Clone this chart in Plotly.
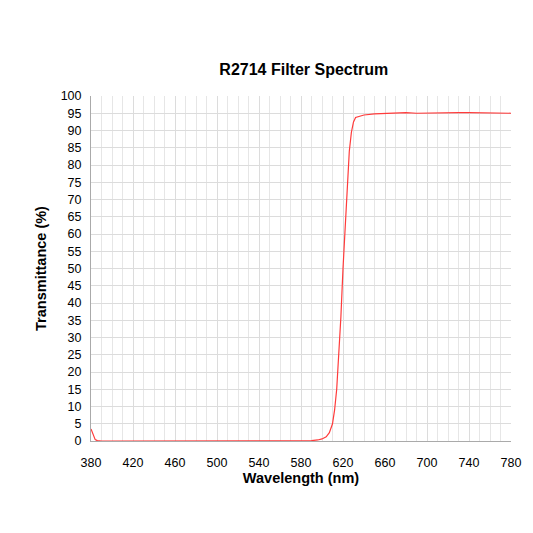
import plotly.graph_objects as go

# Wavelength (nm) and transmittance (%)
wavelength = [380, 382, 384, 386, 390, 400, 450, 500, 520, 530, 540, 580, 590, 596, 600, 604,
              607, 610, 612, 614, 616, 618, 620, 622, 624, 625, 626, 628, 630, 632, 636, 640,
              650, 660, 670, 680, 690, 700, 710, 720, 730, 740, 750, 760, 770, 780]
transmittance = [3.5, 1.8, 0.4, 0.1, 0.0, 0.0, 0.0, 0.0, 0.1, 0.2, 0.0, 0.0, 0.1, 0.3, 0.6, 1.2,
                 2.4, 5.0, 9.0, 15.0, 24.0, 36.0, 50.0, 62.0, 75.0, 80.0, 84.0, 89.5, 92.5, 93.8, 94.2, 94.5,
                 94.8, 95.0, 95.1, 95.2, 95.0, 95.1, 95.2, 95.3, 95.2, 95.2, 95.1, 95.2, 95.1, 95.0]

fig = go.Figure(go.Scatter(x=wavelength, y=transmittance, mode="lines",
                           line=dict(color="#ff3b3b", width=1.2)))

font = "Liberation Sans, Arial, sans-serif"
fig.update_layout(
    width=533, height=533,
    margin=dict(l=83, r=30, t=88, b=100, autoexpand=False),
    paper_bgcolor="white", plot_bgcolor="white",
    showlegend=False,
    font=dict(family=font, size=12.5, color="black"),
    title=dict(text="<b>R2714 Filter Spectrum</b>", x=0.555, xanchor="center",
               y=0.885, yanchor="middle", font=dict(size=16)),
    xaxis=dict(range=[380, 780], tickvals=list(range(380, 781, 40)),
               showgrid=True, gridcolor="#dcdcdc", gridwidth=1,
               minor=dict(dtick=10, showgrid=True, gridcolor="#e6e6e6"),
               showline=True, linecolor="#aaaaaa", zeroline=False, automargin=False,
               ticks="", ticklabelstandoff=10,
               title=dict(text="<b>Wavelength (nm)</b>", font=dict(size=14.5), standoff=2)),
    yaxis=dict(range=[0, 100], dtick=5, showgrid=True, gridcolor="#dcdcdc",
               showline=True, linecolor="#aaaaaa", zeroline=False, automargin=False,
               ticks="", ticklabelstandoff=6,
               title=dict(text="<b>Transmittance (%)</b>", font=dict(size=14.5), standoff=10)),
)

fig.write_html("out.html")
